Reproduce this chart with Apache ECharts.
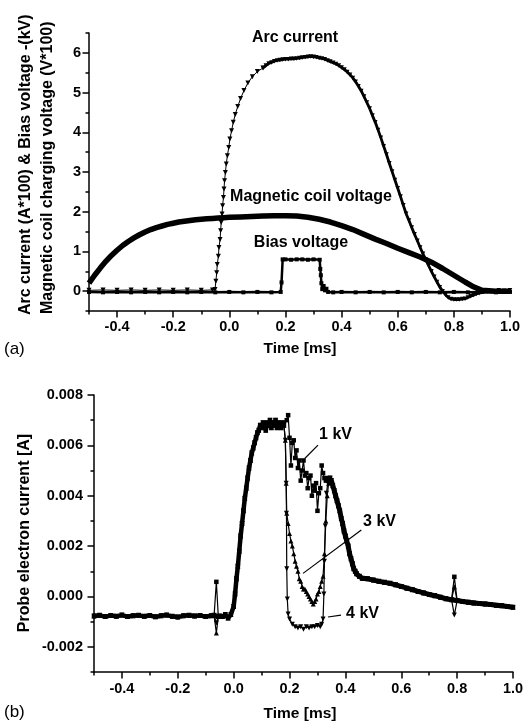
<!DOCTYPE html>
<html><head><meta charset="utf-8">
<script src="https://cdn.jsdelivr.net/npm/echarts@6/dist/echarts.min.js"></script>
<style>html,body{margin:0;padding:0;background:#fff}#c{width:526px;height:725px}</style>
</head><body><div id="c"></div>
<script>
// ---------- (a) top panel data: [time ms, value] ----------
const arcRise = [[-0.5,0.02],[-0.45,0.03],[-0.4,0.02],[-0.35,0.03],[-0.3,0.02],[-0.25,0.03],[-0.2,0.02],[-0.15,0.03],[-0.1,0.02],[-0.06,0.03],
 [-0.051,0.04],[-0.048,0.25],[-0.045,0.46],[-0.043,0.67],[-0.039,0.88],[-0.037,1.1],[-0.033,1.3],[-0.031,1.52],[-0.029,1.73],[-0.026,1.94],
 [-0.024,2.15],[-0.021,2.36],[-0.019,2.57],[-0.017,2.78],[-0.014,2.99],[-0.011,3.2],[-0.007,3.41],[-0.002,3.62],[0.002,3.83],[0.008,4.04],
 [0.014,4.25],[0.021,4.45],[0.03,4.65],[0.04,4.85],[0.052,5.05],[0.066,5.24],[0.082,5.4],[0.1,5.53],[0.12,5.62]];
const arcBody = [[0.12,5.62],[0.13,5.68],[0.14,5.73],[0.15,5.76],[0.16,5.79],[0.17,5.81],[0.18,5.82],[0.19,5.83],[0.2,5.84],[0.21,5.84],
 [0.22,5.85],[0.23,5.85],[0.24,5.86],[0.25,5.87],[0.26,5.88],[0.27,5.89],[0.28,5.9],[0.29,5.91],[0.3,5.9],[0.31,5.89],[0.32,5.87],[0.33,5.86],
 [0.34,5.84],[0.35,5.81],[0.36,5.78],[0.37,5.75],[0.38,5.72],[0.39,5.68],[0.4,5.63],[0.41,5.58],[0.42,5.52],[0.43,5.45],[0.44,5.37],[0.45,5.27],
 [0.46,5.16],[0.47,5.04],[0.48,4.9],[0.49,4.75],[0.5,4.6],[0.51,4.42],[0.52,4.25],[0.53,4.06],[0.54,3.86],[0.55,3.65],[0.56,3.44],[0.57,3.22],
 [0.58,3.01],[0.59,2.8],[0.6,2.59],[0.61,2.38],[0.62,2.16],[0.63,1.95],[0.64,1.78],[0.65,1.6],[0.66,1.43],[0.67,1.27],[0.68,1.1],[0.69,0.94],
 [0.7,0.79],[0.71,0.64],[0.72,0.5],[0.73,0.36],[0.74,0.23],[0.75,0.1],[0.76,0.0],[0.77,-0.09],[0.78,-0.16],[0.79,-0.2],[0.8,-0.21],[0.81,-0.21],
 [0.82,-0.21],[0.83,-0.2],[0.84,-0.19],[0.85,-0.16],[0.86,-0.13],[0.87,-0.1],[0.88,-0.07],[0.89,-0.05],[0.9,-0.03],[0.92,-0.01],[0.94,0.0],
 [0.96,0.02],[0.98,0.01],[1.0,0.02]];
const coilVoltage = [[-0.5,0.2],[-0.48,0.4],[-0.46,0.58],[-0.44,0.75],[-0.42,0.9],[-0.4,1.03],[-0.38,1.15],[-0.36,1.25],[-0.34,1.34],[-0.32,1.42],
 [-0.3,1.49],[-0.28,1.55],[-0.26,1.6],[-0.24,1.64],[-0.22,1.68],[-0.2,1.71],[-0.18,1.74],[-0.16,1.76],[-0.14,1.78],[-0.12,1.8],[-0.1,1.81],
 [-0.08,1.82],[-0.06,1.83],[-0.04,1.84],[-0.02,1.85],[0.0,1.86],[0.04,1.87],[0.08,1.88],[0.12,1.89],[0.16,1.9],[0.2,1.9],[0.24,1.89],[0.28,1.86],
 [0.32,1.81],[0.36,1.74],[0.4,1.65],[0.44,1.55],[0.48,1.43],[0.52,1.31],[0.56,1.2],[0.6,1.08],[0.64,0.97],[0.68,0.86],[0.72,0.73],[0.76,0.57],
 [0.8,0.4],[0.84,0.23],[0.87,0.11],[0.9,0.02],[0.95,0.0],[1.0,0.0]];
const biasVoltage = [[-0.5,-0.02],[-0.45,-0.03],[-0.4,-0.02],[-0.35,-0.03],[-0.3,-0.02],[-0.25,-0.03],[-0.2,-0.02],[-0.15,-0.03],[-0.1,-0.02],
 [-0.05,-0.03],[0.0,-0.02],[0.05,-0.03],[0.1,-0.02],[0.15,-0.03],[0.183,-0.02],[0.186,0.22],[0.19,0.8],[0.2,0.8],[0.22,0.79],[0.24,0.8],[0.26,0.8],
 [0.28,0.79],[0.3,0.8],[0.322,0.79],[0.324,0.56],[0.326,0.4],[0.328,0.2],[0.331,0.05],[0.336,0.13],[0.341,0.02],[0.346,0.06],[0.352,-0.02],
 [0.37,-0.03],[0.4,-0.02],[0.45,-0.03],[0.5,-0.02],[0.55,-0.03],[0.6,-0.02],[0.65,-0.03],[0.7,-0.02],[0.75,-0.03],[0.8,-0.02],[0.85,-0.03],
 [0.9,-0.02],[0.95,-0.03],[1.0,-0.02]];
const topXTicks = [-0.4,-0.2,0.0,0.2,0.4,0.6,0.8,1.0];
const topYTicks = [0,1,2,3,4,5,6];

// ---------- (b) bottom panel data: [time ms, current A] ----------
const probeBaseline = [[-0.5,-0.00078],[-0.48,-0.00075],[-0.46,-0.0008],[-0.44,-0.00076],[-0.42,-0.00079],[-0.4,-0.00074],[-0.38,-0.0008],
 [-0.36,-0.00077],[-0.34,-0.00075],[-0.32,-0.00079],[-0.3,-0.00076],[-0.28,-0.00081],[-0.26,-0.00077],[-0.24,-0.00074],[-0.22,-0.00079],
 [-0.2,-0.00082],[-0.18,-0.00077],[-0.16,-0.00075],[-0.14,-0.00078],[-0.12,-0.00076],[-0.1,-0.0008],[-0.08,-0.00077],[-0.07,-0.00075]];
const spikeEarly1kV = [[-0.062,0.00058]];
const spikeEarly3kV = [[-0.062,-0.00145]];
const spikeEarly4kV = [[-0.062,-0.00105]];
const probePreRise = [[-0.055,-0.0008],[-0.05,-0.00078],[-0.04,-0.0008],[-0.03,-0.00072],[-0.02,-0.00086],[-0.01,-0.00072]];
const probeRise = [[0.0,-0.0004],[0.005,0.0001],[0.01,0.0007],[0.015,0.0012],[0.02,0.0018],[0.025,0.0024],[0.03,0.0029],[0.035,0.0034],
 [0.04,0.0039],[0.045,0.0043],[0.05,0.0047],[0.055,0.0051],[0.06,0.0054],[0.065,0.0057],[0.07,0.0059],[0.075,0.0061],[0.08,0.0063],
 [0.085,0.0065],[0.09,0.0066],[0.095,0.0068],[0.1,0.0067],[0.105,0.0069],[0.11,0.0068],[0.115,0.0066],[0.12,0.0069],[0.125,0.0068],
 [0.13,0.007],[0.135,0.0067],[0.14,0.0069],[0.145,0.0068],[0.15,0.007],[0.155,0.0067],[0.16,0.0069],[0.165,0.0068],[0.17,0.0067],
 [0.175,0.0069],[0.18,0.0068]];
const dip1kV = [[0.19,0.007],[0.195,0.0072],[0.2,0.0063],[0.205,0.0052],[0.21,0.0061],[0.215,0.0062],[0.22,0.0055],[0.225,0.0058],[0.23,0.0051],
 [0.235,0.0054],[0.24,0.0046],[0.245,0.005],[0.25,0.0054],[0.255,0.0048],[0.26,0.0049],[0.265,0.0043],[0.27,0.0047],[0.275,0.0048],[0.28,0.004],
 [0.285,0.0044],[0.29,0.0042],[0.295,0.0045],[0.3,0.0034],[0.305,0.0041],[0.31,0.0043],[0.315,0.0052],[0.32,0.0049],[0.325,0.0047],[0.33,0.0046],
 [0.335,0.0047],[0.34,0.0046],[0.345,0.0047],[0.35,0.0046]];
const dip3kV = [[0.185,0.0062],[0.188,0.0045],[0.19,0.0033],[0.195,0.0029],[0.2,0.0025],[0.205,0.0022],[0.21,0.002],[0.215,0.0017],[0.22,0.0014],
 [0.225,0.0012],[0.23,0.001],[0.235,0.0007],[0.24,0.0006],[0.245,0.0004],[0.25,0.0003],[0.255,0.0003],[0.26,0.0002],[0.265,0.0001],[0.27,0.0],
 [0.275,-0.0001],[0.28,-0.0002],[0.285,-0.0003],[0.29,-0.0002],[0.295,-0.0001],[0.3,0.0001],[0.305,0.0002],[0.31,0.0004],[0.315,0.0006],
 [0.32,0.0008],[0.325,0.0017],[0.33,0.003],[0.335,0.004],[0.34,0.0045],[0.345,0.0047],[0.35,0.0046]];
const dip4kV = [[0.185,0.0062],[0.188,0.0045],[0.189,0.0033],[0.19,0.0011],[0.192,-0.0001],[0.195,-0.0007],[0.2,-0.0009],[0.21,-0.0011],
 [0.22,-0.0012],[0.23,-0.00125],[0.24,-0.0012],[0.25,-0.0013],[0.26,-0.0012],[0.27,-0.00125],[0.28,-0.0012],[0.29,-0.0012],[0.3,-0.00115],
 [0.31,-0.0012],[0.315,-0.0011],[0.32,-0.0009],[0.323,0.0001],[0.325,0.0014],[0.328,0.0028],[0.332,0.0041],[0.337,0.0045],[0.345,0.0047],[0.35,0.0046]];
const probeDecay = [[0.355,0.0044],[0.36,0.0042],[0.365,0.004],[0.37,0.0038],[0.375,0.0036],[0.38,0.0034],[0.385,0.0031],[0.39,0.0029],
 [0.395,0.0026],[0.4,0.0024],[0.405,0.0022],[0.41,0.002],[0.415,0.0017],[0.42,0.0015],[0.425,0.0013],[0.43,0.0011],[0.435,0.001],[0.44,0.0009],
 [0.45,0.0008],[0.46,0.00072],[0.48,0.0007],[0.5,0.00065],[0.52,0.0006],[0.54,0.00056],[0.56,0.00052],[0.58,0.00046],[0.6,0.0004],[0.62,0.00033],
 [0.64,0.00027],[0.66,0.0002],[0.68,0.00014],[0.7,0.00008],[0.72,0.00003],[0.74,-0.00003],[0.76,-0.00009],[0.78,-0.00013]];
const spikeLate1kV = [[0.79,0.00078]];
const spikeLate3kV = [[0.79,0.00039]];
const spikeLate4kV = [[0.79,-0.00074]];
const probeTail = [[0.8,-0.00016],[0.82,-0.0002],[0.84,-0.00023],[0.86,-0.00026],[0.88,-0.00028],[0.9,-0.0003],[0.92,-0.00032],[0.94,-0.00035],
 [0.96,-0.00037],[0.98,-0.0004],[1.0,-0.00043]];
const arrow1kV = [[0.302,0.00601],[0.2544,0.00548]];
const arrow3kV = [[0.457,0.002635],[0.2483,0.000917]];
const arrow4kV = [[0.3843,-0.000738],[0.3378,-0.000817]];

const kv1 = [].concat(probeBaseline, spikeEarly1kV, probePreRise, probeRise, dip1kV, probeDecay, spikeLate1kV, probeTail);
const kv3 = [].concat(probeBaseline, spikeEarly3kV, probePreRise, probeRise, dip3kV, probeDecay, spikeLate3kV, probeTail);
const kv4 = [].concat(probeBaseline, spikeEarly4kV, probePreRise, probeRise, dip4kV, probeDecay, spikeLate4kV, probeTail);
// overlapping common parts of the three traces (dense markers look like a thick band)
const bandEarly = [].concat(probeBaseline, probePreRise, probeRise);
const bandLate = [].concat([[0.35,0.0046]], probeDecay, probeTail);

// ---------- layout ----------
const FONT = '"Liberation Sans", Arial, Helvetica, sans-serif';
const BLACK = '#000';
const T = {l:89, t:33, w:421, h:278};   // top plot frame
const B = {l:94, t:395, w:419, h:277};  // bottom plot frame
const tdx = T.w / 15, tdy = T.h / 14;   // px per 0.1 ms, px per 0.5 unit
const bdx = B.w / 15, bdy = B.h / 11;   // px per 0.1 ms, px per 0.001 A

function grid(l, t, w, h){ return {left:l, top:t, width:w, height:h, containLabel:false, outerBoundsMode:'none'}; }
const lineS = {color:BLACK, width:1.5};
function minorAxis(type, gi, min, max, interval){
  return {type:'value', gridIndex:gi, min, max, interval,
    axisLine:{show:true, onZero:false, lineStyle:lineS},
    axisTick:{show:true, inside:false, length:3.5, lineStyle:lineS},
    axisLabel:{show:false}, splitLine:{show:false}};
}
function majorAxis(gi, min, max, interval, digits, margin){
  return {type:'value', gridIndex:gi, min, max, interval,
    axisLine:{show:false, onZero:false},
    axisTick:{show:true, inside:false, length:6.5, lineStyle:lineS},
    axisLabel:{show:true, margin, color:BLACK, fontFamily:FONT, fontWeight:'bold', fontSize:14.5,
      showMinLabel:true, showMaxLabel:true, hideOverlap:false,
      formatter: v => digits === 0 ? String(Math.round(v)) : Number(v).toFixed(digits)},
    splitLine:{show:false}};
}
function hidden(gi, min, max){ return {type:'value', gridIndex:gi, min, max, show:false, axisLine:{onZero:false}, splitLine:{show:false}}; }

const grids = [
  grid(T.l, T.t, T.w, T.h),
  grid(T.l + tdx, T.t, T.w - tdx, T.h),
  grid(T.l, T.t + tdy, T.w, T.h - 2*tdy),
  grid(B.l, B.t, B.w, B.h),
  grid(B.l + bdx, B.t, B.w - bdx, B.h),
  grid(B.l, B.t, B.w, B.h - bdy)
];
const xAxes = [
  minorAxis('x', 0, -0.5, 1.0, 0.1),
  majorAxis(1, topXTicks[0], topXTicks[topXTicks.length-1], 0.2, 1, 8),
  hidden(2, -0.5, 1.0),
  minorAxis('x', 3, -0.5, 1.0, 0.1),
  majorAxis(4, topXTicks[0], topXTicks[topXTicks.length-1], 0.2, 1, 9),
  hidden(5, -0.5, 1.0)
];
const yAxes = [
  minorAxis('y', 0, -0.5, 6.5, 0.5),
  hidden(1, -0.5, 6.5),
  majorAxis(2, topYTicks[0], topYTicks[topYTicks.length-1], 1, 0, 8),
  minorAxis('y', 3, -0.003, 0.008, 0.001),
  hidden(4, -0.003, 0.008),
  majorAxis(5, -0.002, 0.008, 0.002, 3, 11)
];

function ser(name, data, xi, symbol, size, rot, lw, extra){
  return Object.assign({type:'line', name, data, xAxisIndex:xi, yAxisIndex:xi,
    symbol, symbolSize:size, symbolRotate:rot, showSymbol:symbol!=='none',
    lineStyle:{color:BLACK, width:lw}, itemStyle:{color:BLACK, borderWidth:0},
    emphasis:{disabled:true}, silent:true, animation:false, clip:false}, extra||{});
}
function arrows(list){
  return {silent:true, symbol:['none','arrow'], symbolSize:[0,7], animation:false,
    lineStyle:{color:BLACK, width:1.2, type:'solid'}, label:{show:false},
    data:list.map(a => [{coord:a[0]},{coord:a[1]}])};
}
const series = [
  ser('Magnetic coil voltage', coilVoltage, 0, 'none', 0, 0, 5.5),
  ser('Arc current', arcRise, 0, 'triangle', 5, 180, 1),
  ser('Arc current', arcBody, 0, 'triangle', 4.5, 180, 2.8),
  ser('Bias voltage', biasVoltage, 0, 'rect', 4, 0, 2.5),
  ser('band', bandEarly, 3, 'none', 0, 0, 4.5),
  ser('band', bandLate, 3, 'none', 0, 0, 5),
  ser('4 kV', kv4, 3, 'triangle', 5, 180, 1.2),
  ser('3 kV', kv3, 3, 'triangle', 5, 0, 1.2),
  ser('1 kV', kv1, 3, 'rect', 4.5, 0, 1.2, {markLine: arrows([arrow1kV, arrow3kV, arrow4kV])})
];

function txt(x, y, s, size, bold, align, rot){
  return {type:'text', x, y, rotation: rot||0, silent:true,
    style:{text:s, fill:BLACK, font:(bold?'bold ':'')+size+'px '+FONT,
      align:align||'center', verticalAlign:'middle', textAlign:align||'center', textVerticalAlign:'middle'}};
}
const graphics = [
  txt(295, 38, 'Arc current', 16, true),
  txt(311, 197, 'Magnetic coil voltage', 16, true),
  txt(301, 243, 'Bias voltage', 16, true),
  txt(300, 349, 'Time [ms]', 15.5, true),
  txt(4, 349, '(a)', 17, false, 'left'),
  txt(25.5, 315, 'Arc current (A*100) & Bias voltage -(kV)', 16, true, 'left', Math.PI/2),
  txt(47.5, 314, 'Magnetic coil charging voltage (V*100)', 16, true, 'left', Math.PI/2),
  txt(24.5, 533, 'Probe electron current [A]', 16, true, 'center', Math.PI/2),
  txt(300, 714, 'Time [ms]', 15.5, true),
  txt(4, 712, '(b)', 17, false, 'left'),
  txt(335.5, 435, '1 kV', 16, true),
  txt(379.5, 521.5, '3 kV', 16, true),
  txt(362.5, 613.5, '4 kV', 16, true)
];

const chart = echarts.init(document.getElementById('c'), null, {renderer:'canvas'});
chart.setOption({animation:false, backgroundColor:'#fff', grid:grids, xAxis:xAxes, yAxis:yAxes, series, graphic:graphics});
</script></body></html>
